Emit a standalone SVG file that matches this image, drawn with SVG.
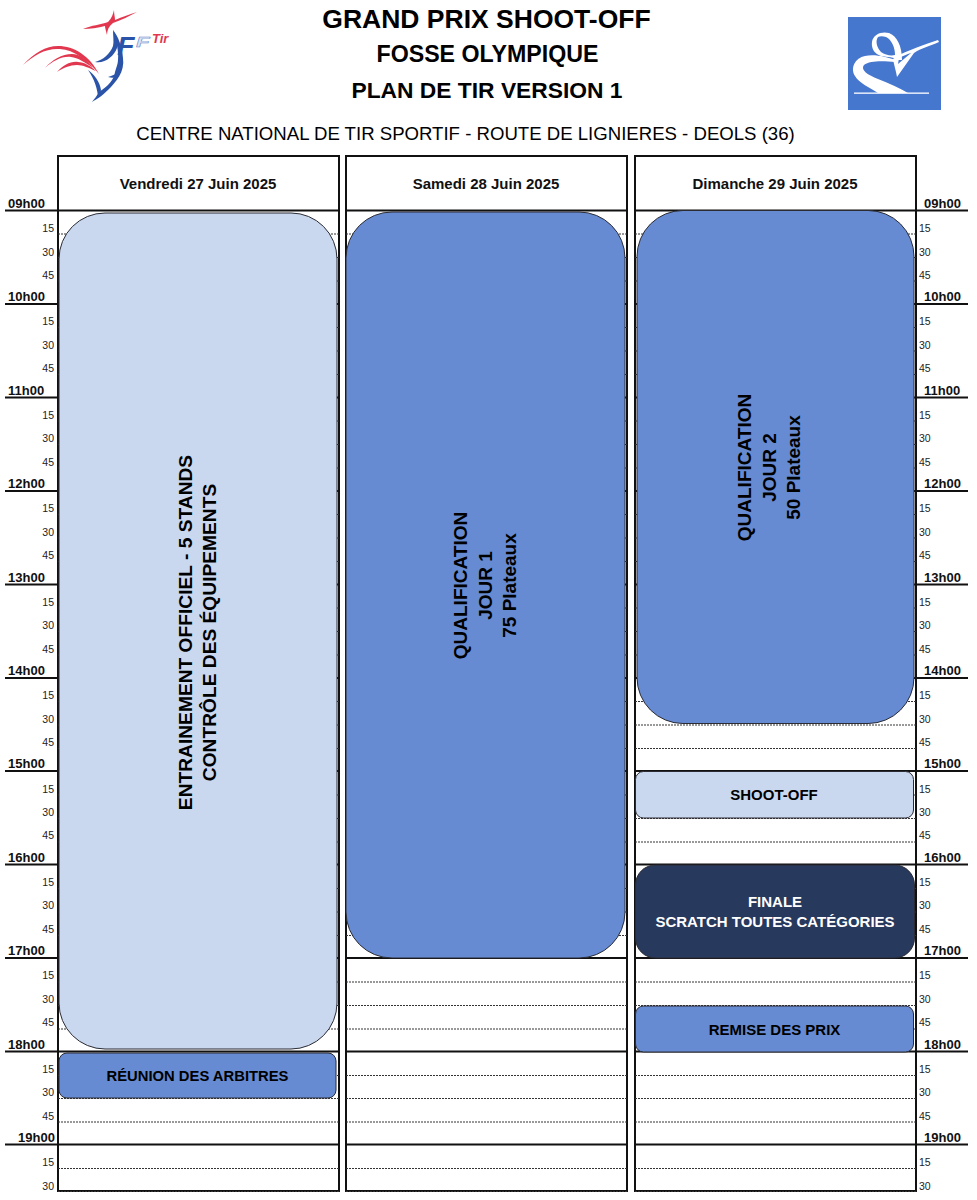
<svg xmlns="http://www.w3.org/2000/svg" width="977" height="1200" viewBox="0 0 977 1200">
<style>
text{font-family:"Liberation Sans",Arial,sans-serif;fill:#000}
.b{font-weight:700}
.m{text-anchor:middle}
.h{font-size:13px;font-weight:700;fill:#111}
.d{font-size:15px;font-weight:700;text-anchor:middle;fill:#111}
.q{font-size:10.5px;fill:#222}
.l{text-anchor:end}
.col{fill:#fff;stroke:#111;stroke-width:2}
.hr{stroke:#111;stroke-width:2;fill:none}
.qr{stroke:#333;stroke-width:1;stroke-dasharray:2 1;fill:none}
.blk{stroke:#2b2b33;stroke-width:1}
.lt{fill:#c9d8ef}.md{fill:#668bd2}.dk{fill:#27395c}
.red{fill:#e2384f}.blu{fill:#2b54a8}
</style>
<rect width="977" height="1200" fill="#fff"/>
<g id="logo-fftir">
<path class="red" d="M23 65C34 53 46 46 58 46C74 46 90 56 99 74C88 60 74 50 60 49C46 48 34 55 23 65Z"/>
<path class="red" d="M45 68C52 60 62 54 72 54C80 54 87 60 93 68C85 62 78 58 71 57C62 56 53 61 45 68Z"/>
<path class="red" d="M57 72C63 65 71 61 78 62C84 62 91 66 96 71C89 68 83 65 77 65C70 65 63 68 57 72Z"/>
<path class="red" d="M83 29C92 25 100 25 108 22C112 18 113 14 114 10C114 14 115 17 115 20C122 17 130 14 137 12C129 16 122 20 113 23C109 26 107 30 107 35C106 31 105 28 105 26C98 28 90 29 83 29Z"/>
<path class="blu" d="M113 30C118 36 122 46 123 58C125 72 116 82 108 90C102 96 97 99 92 102C94 99 97 96 99 92C108 86 114 80 115 72C116 68 118 64 118 60C119 50 116 42 113 30Z"/>
<path class="blu" d="M95 62C103 60 110 54 113 46C114 42 113 36 113 30C116 36 118 42 117 48C114 56 105 64 95 62Z"/>
<path class="blu" d="M88 70C94 74 100 82 101 90C100 93 99 96 98 98C98 90 94 78 88 70Z"/>
<path class="blu" d="M108 77C112 76 116 74 120 71L118 77C114 78 111 78 108 77Z"/>
<text transform="translate(117 55) scale(1.1 1)" font-size="26" font-style="italic" class="b" style="fill:#2b54a8">F</text>
<text transform="translate(136 47) scale(1.6 1)" font-size="14" font-style="italic" class="b" style="fill:#dbe4f5;stroke:#5f83c8;stroke-width:.4">F</text>
<text x="152" y="43" font-size="13" font-style="italic" class="b" style="fill:#e2384f">Tir</text>
</g>
<g id="logo-stand">
<rect x="848" y="17" width="93" height="93" fill="#4677cf"/>
<g fill="#fff">
<path fill-rule="evenodd" d="M872 42C873 34 882 31 889 33C897 36 902 46 902 60L897 60C895 57 887 57 881 56C875 54 871 49 872 42ZM878 37C875 41 877 48 881 52C885 55 891 56 895 55C895 48 892 40 886 37C883 36 880 36 878 37Z"/>
<path fill-rule="evenodd" d="M938 40L939 42C930 46 921 48 914 53L897 77C896 71 894 65 893 59C900 53 918 47 938 40ZM899 58L898 64L911 53C907 54 903 56 899 58Z"/>
<path d="M895 60L895 62C885 61 870 60 864 65C860 70 868 75 878 79C890 84 900 88 908 93L878 93C870 88 858 82 855 76C850 68 855 58 865 56C875 54 887 57 895 60Z"/>
<rect x="854" y="92.500" width="75" height="1.300"/>
</g>
</g>
<g id="titles">
<text x="486.500" y="28" class="b m" font-size="26.500">GRAND PRIX SHOOT-OFF</text>
<text x="487.500" y="62" class="b m" font-size="23.200">FOSSE OLYMPIQUE</text>
<text x="487" y="98" class="b m" font-size="22.800">PLAN DE TIR VERSION 1</text>
<text x="465.500" y="140" class="m" font-size="18.600">CENTRE NATIONAL DE TIR SPORTIF - ROUTE DE LIGNIERES - DEOLS (36)</text>
</g>
<g id="column-friday">
<rect class="col" x="58" y="156" width="281" height="1035"/>
<text x="198" y="189" class="d">Vendredi 27 Juin 2025</text>
</g>
<g id="column-saturday">
<rect class="col" x="346" y="156" width="281" height="1035"/>
<text x="486" y="189" class="d">Samedi 28 Juin 2025</text>
</g>
<g id="column-sunday">
<rect class="col" x="635" y="156" width="281" height="1035"/>
<text x="775" y="189" class="d">Dimanche 29 Juin 2025</text>
</g>
<g id="grid">
<path class="qr" d="M58 234H339M346 234H627M635 234H916M58 257.500H339M346 257.500H627M635 257.500H916M58 281H339M346 281H627M635 281H916M58 327.500H339M346 327.500H627M635 327.500H916M58 351H339M346 351H627M635 351H916M58 374.500H339M346 374.500H627M635 374.500H916M58 421H339M346 421H627M635 421H916M58 444.500H339M346 444.500H627M635 444.500H916M58 468H339M346 468H627M635 468H916M58 514.500H339M346 514.500H627M635 514.500H916M58 538H339M346 538H627M635 538H916M58 561.500H339M346 561.500H627M635 561.500H916M58 608H339M346 608H627M635 608H916M58 631.500H339M346 631.500H627M635 631.500H916M58 655H339M346 655H627M635 655H916M58 701.500H339M346 701.500H627M635 701.500H916M58 725H339M346 725H627M635 725H916M58 748.500H339M346 748.500H627M635 748.500H916M58 795H339M346 795H627M635 795H916M58 818.500H339M346 818.500H627M635 818.500H916M58 842H339M346 842H627M635 842H916M58 888.500H339M346 888.500H627M635 888.500H916M58 912H339M346 912H627M635 912H916M58 935.500H339M346 935.500H627M635 935.500H916M58 982H339M346 982H627M635 982H916M58 1005.500H339M346 1005.500H627M635 1005.500H916M58 1029H339M346 1029H627M635 1029H916M58 1075.500H339M346 1075.500H627M635 1075.500H916M58 1098.500H339M346 1098.500H627M635 1098.500H916M58 1122H339M346 1122H627M635 1122H916M58 1168.500H339M346 1168.500H627M635 1168.500H916M58 1191.500H339M346 1191.500H627M635 1191.500H916"/>
<path class="hr" d="M5 210.500H339M346 210.500H627M635 210.500H968M5 304H339M346 304H627M635 304H968M5 397.500H339M346 397.500H627M635 397.500H968M5 491H339M346 491H627M635 491H968M5 584.500H339M346 584.500H627M635 584.500H968M5 678H339M346 678H627M635 678H968M5 771H339M346 771H627M635 771H968M5 864.500H339M346 864.500H627M635 864.500H968M5 958H339M346 958H627M635 958H968M5 1051.500H339M346 1051.500H627M635 1051.500H968M5 1144.500H339M346 1144.500H627M635 1144.500H968"/>
</g>
<g id="time-labels">
<text class="h" x="8" y="208">09h00</text><text class="h" x="924" y="208">09h00</text>
<text class="h" x="8" y="301">10h00</text><text class="h" x="924" y="301">10h00</text>
<text class="h" x="8" y="395">11h00</text><text class="h" x="924" y="395">11h00</text>
<text class="h" x="8" y="488">12h00</text><text class="h" x="924" y="488">12h00</text>
<text class="h" x="8" y="582">13h00</text><text class="h" x="924" y="582">13h00</text>
<text class="h" x="8" y="675">14h00</text><text class="h" x="924" y="675">14h00</text>
<text class="h" x="8" y="768">15h00</text><text class="h" x="924" y="768">15h00</text>
<text class="h" x="8" y="862">16h00</text><text class="h" x="924" y="862">16h00</text>
<text class="h" x="8" y="955">17h00</text><text class="h" x="924" y="955">17h00</text>
<text class="h" x="8" y="1049">18h00</text><text class="h" x="924" y="1049">18h00</text>
<text class="h" x="18" y="1142">19h00</text><text class="h" x="924" y="1142">19h00</text>
<g class="q">
<text class="q l" x="54" y="232">15</text><text class="q" x="919" y="232">15</text><text class="q l" x="54" y="256">30</text><text class="q" x="919" y="256">30</text><text class="q l" x="54" y="279">45</text><text class="q" x="919" y="279">45</text>
<text class="q l" x="54" y="325">15</text><text class="q" x="919" y="325">15</text><text class="q l" x="54" y="349">30</text><text class="q" x="919" y="349">30</text><text class="q l" x="54" y="372">45</text><text class="q" x="919" y="372">45</text>
<text class="q l" x="54" y="419">15</text><text class="q" x="919" y="419">15</text><text class="q l" x="54" y="442">30</text><text class="q" x="919" y="442">30</text><text class="q l" x="54" y="466">45</text><text class="q" x="919" y="466">45</text>
<text class="q l" x="54" y="512">15</text><text class="q" x="919" y="512">15</text><text class="q l" x="54" y="536">30</text><text class="q" x="919" y="536">30</text><text class="q l" x="54" y="559">45</text><text class="q" x="919" y="559">45</text>
<text class="q l" x="54" y="606">15</text><text class="q" x="919" y="606">15</text><text class="q l" x="54" y="629">30</text><text class="q" x="919" y="629">30</text><text class="q l" x="54" y="653">45</text><text class="q" x="919" y="653">45</text>
<text class="q l" x="54" y="699">15</text><text class="q" x="919" y="699">15</text><text class="q l" x="54" y="723">30</text><text class="q" x="919" y="723">30</text><text class="q l" x="54" y="746">45</text><text class="q" x="919" y="746">45</text>
<text class="q l" x="54" y="793">15</text><text class="q" x="919" y="793">15</text><text class="q l" x="54" y="816">30</text><text class="q" x="919" y="816">30</text><text class="q l" x="54" y="839">45</text><text class="q" x="919" y="839">45</text>
<text class="q l" x="54" y="886">15</text><text class="q" x="919" y="886">15</text><text class="q l" x="54" y="909">30</text><text class="q" x="919" y="909">30</text><text class="q l" x="54" y="933">45</text><text class="q" x="919" y="933">45</text>
<text class="q l" x="54" y="979">15</text><text class="q" x="919" y="979">15</text><text class="q l" x="54" y="1003">30</text><text class="q" x="919" y="1003">30</text><text class="q l" x="54" y="1026">45</text><text class="q" x="919" y="1026">45</text>
<text class="q l" x="54" y="1073">15</text><text class="q" x="919" y="1073">15</text><text class="q l" x="54" y="1096">30</text><text class="q" x="919" y="1096">30</text><text class="q l" x="54" y="1120">45</text><text class="q" x="919" y="1120">45</text>
<text class="q l" x="54" y="1166">15</text><text class="q" x="919" y="1166">15</text><text class="q l" x="54" y="1190">30</text><text class="q" x="919" y="1190">30</text>
</g>
</g>
<g id="block-entrainement">
<rect class="blk lt" x="59" y="213" width="278" height="836" rx="46"/>
<g transform="translate(192 632.500) rotate(-90)">
<text class="b m" y="0" font-size="19.200">ENTRAINEMENT OFFICIEL - 5 STANDS</text>
<text class="b m" y="24" font-size="19.200">CONTRÔLE DES ÉQUIPEMENTS</text>
</g>
</g>
<g id="block-reunion">
<rect class="blk md" x="59" y="1053" width="277" height="45" rx="8"/>
<text class="b m" x="197.500" y="1081" font-size="14.800">RÉUNION DES ARBITRES</text>
</g>
<g id="block-qualif-1">
<rect class="blk md" x="346" y="212" width="279" height="746" rx="46"/>
<g transform="translate(486 585.500) rotate(-90)">
<text class="b m" y="-19" font-size="19">QUALIFICATION</text>
<text class="b m" y="6" font-size="19">JOUR 1</text>
<text class="b m" y="30" font-size="19">75 Plateaux</text>
</g>
</g>
<g id="block-qualif-2">
<rect class="blk md" x="637" y="210.500" width="277" height="513" rx="46"/>
<g transform="translate(775 467.500) rotate(-90)">
<text class="b m" y="-24" font-size="19">QUALIFICATION</text>
<text class="b m" y="1" font-size="19">JOUR 2</text>
<text class="b m" y="25" font-size="19">50 Plateaux</text>
</g>
</g>
<g id="block-shootoff">
<rect class="blk lt" x="635.500" y="771.500" width="278" height="46.500" rx="8"/>
<text class="b m" x="774" y="800" font-size="15">SHOOT-OFF</text>
</g>
<g id="block-finale">
<rect class="blk dk" x="635.500" y="865" width="279" height="93" rx="20"/>
<text class="b m" x="775" y="907" font-size="15" style="fill:#fff">FINALE</text>
<text class="b m" x="775" y="926.500" font-size="15" style="fill:#fff">SCRATCH TOUTES CATÉGORIES</text>
</g>
<g id="block-remise">
<rect class="blk md" x="635.500" y="1006" width="278" height="46" rx="8"/>
<text class="b m" x="774.500" y="1035" font-size="15">REMISE DES PRIX</text>
</g>
<g id="connectors"/>
</svg>
